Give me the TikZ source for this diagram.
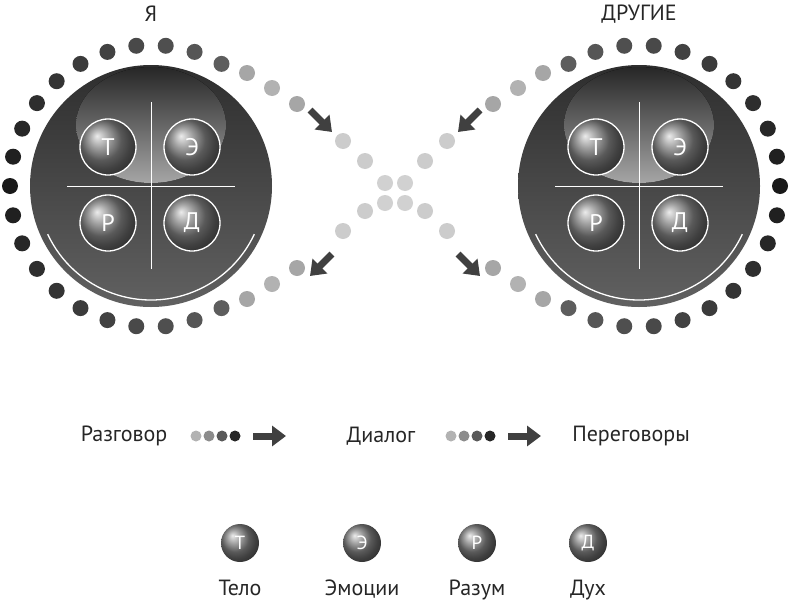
\documentclass[tikz,border=0pt]{standalone}
\usepackage{fontspec}
\setmainfont{PT Sans}
\usetikzlibrary{arrows.meta,positioning,calc}
\tikzset{
  dot/.style={circle,inner sep=0pt,minimum size=16pt},
  disc/.style={circle,inner sep=0pt,minimum size=242pt,top color=black!82,bottom color=black!62},
  part/.style={circle,draw=white,line width=1.3pt,minimum size=56pt,inner sep=0pt,
    ball color=black!50,text=white,font=\fontsize{24}{24}\selectfont},
  legball/.style={circle,minimum size=38pt,inner sep=0pt,ball color=black!50,
    text=white,font=\fontsize{19}{19}\selectfont},
  lbl/.style={font=\fontsize{22}{24}\selectfont,text=black!85},
  bigarrow/.style={line width=7pt,draw=black!75,-{Triangle[length=14pt,width=20pt]}},
  smalldot/.style={circle,inner sep=0pt,minimum size=11pt}
}
\begin{document}
\begin{tikzpicture}[x=1pt,y=-1pt]
\useasboundingbox (0,0) rectangle (790,608);

% the two discs
\foreach \name/\cx/\title in {me/151/Я, others/639/ДРУГИЕ}{
  \node[disc] (\name) at (\cx,186) {};
  \fill[top color=black!85,bottom color=black!35] (\cx,125) ellipse (75pt and 58pt);
  \draw[white,line width=1.3pt] ($(\name)+(205:114pt)$) arc (205:335:114pt);
  \draw[white,line width=1pt] (\cx-84,186) -- (\cx+84,186) (\cx,102) -- (\cx,269);
  \node[part] (\name-t) at (\cx-43,147) {Т};
  \node[part] (\name-e) at (\cx+41,147) {Э};
  \node[part] (\name-r) at (\cx-43,223) {Р};
  \node[part] (\name-d) at (\cx+41,223) {Д};
  \node[lbl] at (\cx,14) {\title};
}

% rings of dots
\foreach \a in {60,72,...,300}{
  \pgfmathsetmacro{\shade}{90-abs(\a-180)*0.22}
  \node[dot,fill=black!\shade] at ($(me)+(\a:141pt)$) {};
  \node[dot,fill=black!\shade] at ($(others)+(180-\a:141pt)$) {};
}

% crossing paths
\foreach \sx/\sgn in {0/1,790/-1}{
  \foreach \px/\py/\c in {247/73/35,272/88/30,297/104/35,343/141/20,365/161/20}{
    \node[dot,fill=black!\c] at ({\sx+\sgn*\px},\py) {};
    \node[dot,fill=black!\c] at ({\sx+\sgn*\px},{372-\py}) {};
  }
}
\foreach \px/\py in {385/183,405/183,385/203,405/203}
  \node[dot,fill=black!18] at (\px,\py) {};
\coordinate (a1) at (310,110); \coordinate (a1e) at (332,132);
\coordinate (a2) at (332,254); \coordinate (a2e) at (310,276);
\coordinate (a3) at (480,110); \coordinate (a3e) at (458,132);
\coordinate (a4) at (458,254); \coordinate (a4e) at (480,276);
\draw[bigarrow] (a1) -- (a1e);
\draw[bigarrow] (a2) -- (a2e);
\draw[bigarrow] (a3) -- (a3e);
\draw[bigarrow] (a4) -- (a4e);

% legend line
\node[lbl] (talk) at (124,436) {Разговор};
\node[lbl] (dialog) at (381,436) {Диалог};
\node[lbl] (nego) at (631,436) {Переговоры};
\foreach \x/\c in {0/30,13/45,26/65,39/85}{
  \node[smalldot,fill=black!\c] at (196+\x,436) {};
  \node[smalldot,fill=black!\c] at (451+\x,436) {};
}
\coordinate (b1) at (253,436); \coordinate (b2) at (508,436);
\draw[bigarrow] (b1) -- ++(33,0);
\draw[bigarrow] (b2) -- ++(33,0);

% legend balls
\node[legball] (kt) at (240,543) {Т};
\node[legball] (ke) at (362,543) {Э};
\node[legball] (kr) at (477,543) {Р};
\node[legball] (kd) at (588,543) {Д};
\node[lbl,below=14pt of kt] {Тело};
\node[lbl,below=14pt of ke] {Эмоции};
\node[lbl,below=14pt of kr] {Разум};
\node[lbl,below=14pt of kd] {Дух};
\end{tikzpicture}
\end{document}
